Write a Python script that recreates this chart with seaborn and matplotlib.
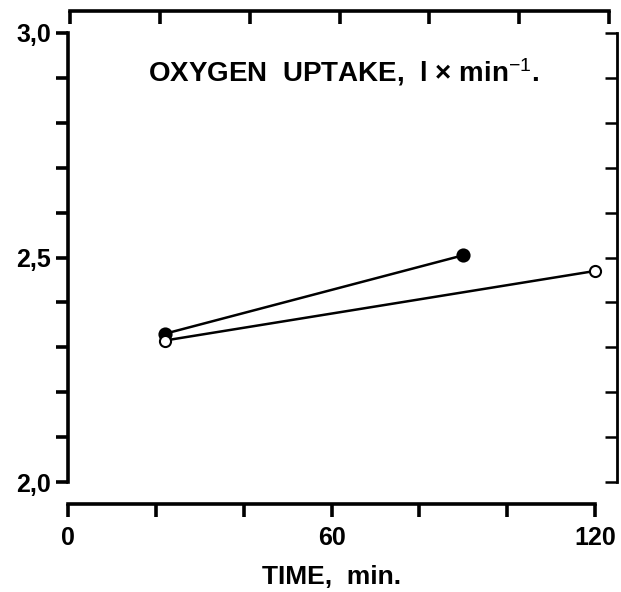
import matplotlib
matplotlib.use("Agg")
import matplotlib.pyplot as plt
import seaborn as sns
import numpy as np
from matplotlib.ticker import FixedLocator, FixedFormatter

# ---- data ----
time_filled = [22, 90]
vo2_filled = [2.33, 2.505]
time_open = [22, 120]
vo2_open = [2.315, 2.47]

x_ticks = [0, 20, 40, 60, 80, 100, 120]
x_ticklabels = ["0", "", "", "60", "", "", "120"]
y_major = [2.0, 2.5, 3.0]
y_major_labels = ["2,0", "2,5", "3,0"]
y_minor = [2.1, 2.2, 2.3, 2.4, 2.6, 2.7, 2.8, 2.9]
title_text = "OXYGEN  UPTAKE,  l \u00d7 min$^{-1}$."
xlabel_text = "TIME,  min."

sns.set_theme(style="ticks")
plt.rcParams["font.family"] = ["Liberation Sans", "DejaVu Sans"]
plt.rcParams["mathtext.fontset"] = "custom"
plt.rcParams["mathtext.rm"] = "Liberation Sans"
plt.rcParams["mathtext.it"] = "Liberation Sans"
plt.rcParams["mathtext.bf"] = "Liberation Sans:bold"

W, H = 621, 592
fig = plt.figure(figsize=(W / 100, H / 100), dpi=100)
fig.patch.set_facecolor("white")

L, R, T, B = 68, 617, 33, 482
ax = fig.add_axes([L / W, 1 - B / H, (R - L) / W, (B - T) / H])
ax.set_facecolor("white")

sns.lineplot(x=time_filled, y=vo2_filled, ax=ax, color="black", lw=1.8,
             marker="o", markersize=9, markerfacecolor="black",
             markeredgecolor="black", markeredgewidth=1.2)
sns.lineplot(x=time_open, y=vo2_open, ax=ax, color="black", lw=1.8,
             marker="o", markersize=8, markerfacecolor="white",
             markeredgecolor="black", markeredgewidth=1.5)

ax.set_xlim(0, 125.0)
ax.set_ylim(2.0, 3.0)

lw = 2.6
ax.spines["top"].set_visible(False)
ax.spines["right"].set_visible(False)
ax.spines["left"].set_linewidth(lw)
ax.spines["bottom"].set_linewidth(lw)
ax.spines["left"].set_color("black")
ax.spines["bottom"].set_color("black")
ax.spines["bottom"].set_position(("outward", 16))
ax.spines["bottom"].set_bounds(0, 120)

ax.xaxis.set_major_locator(FixedLocator(x_ticks))
ax.xaxis.set_major_formatter(FixedFormatter(x_ticklabels))
ax.yaxis.set_major_locator(FixedLocator(y_major))
ax.yaxis.set_major_formatter(FixedFormatter(y_major_labels))
ax.yaxis.set_minor_locator(FixedLocator(y_minor))
ax.tick_params(axis="x", direction="out", length=9, width=lw, color="black",
               labelsize=18, pad=7, labelcolor="black")
ax.tick_params(axis="y", which="both", direction="out", length=9, width=lw,
               color="black", labelsize=18, pad=3, labelcolor="black")
for t in ax.get_xticklabels() + ax.get_yticklabels():
    t.set_fontweight("bold")

ax.set_xlabel(xlabel_text, fontsize=19, fontweight="bold", color="black")
ax.xaxis.set_label_coords(0.48, -0.185)
ax.set_ylabel("")

ax.text(0.146, 0.913, title_text, transform=ax.transAxes, ha="left", va="center",
        fontsize=20, fontweight="bold", color="black")

# right spine with inward ticks
ax2 = ax.twinx()
ax2.set_ylim(2.0, 3.0)
for s in ["top", "left", "bottom"]:
    ax2.spines[s].set_visible(False)
ax2.spines["right"].set_linewidth(2.0)
ax2.spines["right"].set_color("black")
ax2.yaxis.set_major_locator(FixedLocator(y_major + y_minor))
ax2.yaxis.set_major_formatter(FixedFormatter([""] * (len(y_major) + len(y_minor))))
ax2.tick_params(axis="y", direction="in", length=9, width=1.8, color="black")
ax2.grid(False)
ax.grid(False)

# top bracket (axis of the panel above)
TL, TR, TY = 70, 609, 11
axt = fig.add_axes([TL / W, 1 - TY / H, (TR - TL) / W, 0.005])
axt.set_xlim(0, 120)
axt.patch.set_alpha(0)
for s in ["top", "left", "right"]:
    axt.spines[s].set_visible(False)
axt.spines["bottom"].set_linewidth(lw)
axt.spines["bottom"].set_color("black")
axt.set_yticks([])
axt.xaxis.set_major_locator(FixedLocator(x_ticks))
axt.xaxis.set_major_formatter(FixedFormatter([""] * len(x_ticks)))
axt.tick_params(axis="x", direction="out", length=9, width=lw, color="black")

fig.savefig("out.png", dpi=100, facecolor="white")
